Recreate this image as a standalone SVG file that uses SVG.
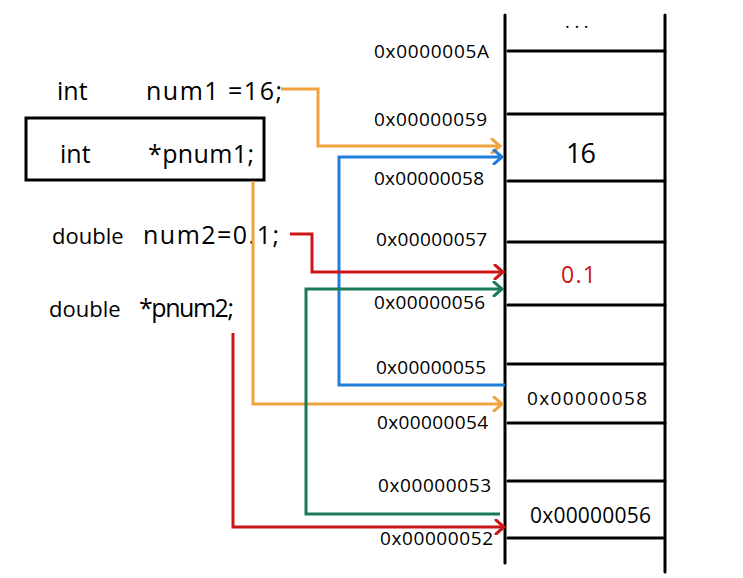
<svg xmlns="http://www.w3.org/2000/svg" width="743" height="578" viewBox="0 0 743 578">
<style>
.code{font-family:"Open Sans","DejaVu Sans",sans-serif;font-size:25px;fill:#000}
.dbl{font-size:22px}
.addr{font-family:"Open Sans","DejaVu Sans",sans-serif;font-size:19px;fill:#000}
.cell{font-family:"Open Sans","DejaVu Sans",sans-serif;fill:#000}
.mem{stroke:#000;stroke-width:3;fill:none;stroke-linecap:round}
.c{fill:none;stroke-width:3;stroke-linejoin:miter}
</style>
<defs>
<marker id="ao" markerWidth="14" markerHeight="16" refX="11" refY="8" orient="auto" markerUnits="userSpaceOnUse"><polyline points="3,1 11,8 3,15" fill="none" stroke="#F0A33C" stroke-width="3" stroke-linecap="round"/></marker>
<marker id="ab" markerWidth="14" markerHeight="16" refX="11" refY="8" orient="auto" markerUnits="userSpaceOnUse"><polyline points="3,1 11,8 3,15" fill="none" stroke="#1F7FDB" stroke-width="3" stroke-linecap="round"/></marker>
<marker id="ar" markerWidth="14" markerHeight="16" refX="11" refY="8" orient="auto" markerUnits="userSpaceOnUse"><polyline points="3,1 11,8 3,15" fill="none" stroke="#CC1518" stroke-width="3" stroke-linecap="round"/></marker>
<marker id="ag" markerWidth="14" markerHeight="16" refX="11" refY="8" orient="auto" markerUnits="userSpaceOnUse"><polyline points="3,1 11,8 3,15" fill="none" stroke="#1B7A56" stroke-width="3" stroke-linecap="round"/></marker>
</defs>
<rect width="743" height="578" fill="#fff"/>

<g id="memory">
<line class="mem" x1="505" y1="15" x2="505" y2="563"/>
<line class="mem" x1="665" y1="15" x2="665" y2="572"/>
<line class="mem" x1="508" y1="51" x2="665" y2="51"/>
<line class="mem" x1="508" y1="114" x2="665" y2="114"/>
<line class="mem" x1="508" y1="181" x2="665" y2="181"/>
<line class="mem" x1="508" y1="242" x2="665" y2="242"/>
<line class="mem" x1="508" y1="305" x2="665" y2="305"/>
<line class="mem" x1="508" y1="364" x2="665" y2="364"/>
<line class="mem" x1="508" y1="423" x2="665" y2="423"/>
<line class="mem" x1="508" y1="481" x2="665" y2="481"/>
<line class="mem" x1="508" y1="538" x2="663" y2="538"/>
<text class="cell" x="565" y="28" font-size="18">. . .</text>
<text class="cell" x="566" y="163" font-size="27" textLength="30">16</text>
<text class="cell" x="561" y="283" font-size="23" style="fill:#CC1518" textLength="35">0.1</text>
<text class="cell" x="527" y="405" font-size="19" textLength="120">0x00000058</text>
<text class="cell" x="530" y="523" font-size="21" textLength="121">0x00000056</text>
</g>

<g id="addresses">
<text class="addr" x="374" y="58" textLength="115">0x0000005A</text>
<text class="addr" x="374" y="126" textLength="113">0x00000059</text>
<text class="addr" x="374" y="185" textLength="110">0x00000058</text>
<text class="addr" x="376" y="246" textLength="111">0x00000057</text>
<text class="addr" x="374" y="309" textLength="111">0x00000056</text>
<text class="addr" x="376" y="374" textLength="110">0x00000055</text>
<text class="addr" x="377" y="429" textLength="111">0x00000054</text>
<text class="addr" x="378" y="492" textLength="113">0x00000053</text>
<text class="addr" x="380" y="545" textLength="113">0x00000052</text>
</g>

<g id="num1">
<text class="code" x="57" y="100">int</text>
<text class="code" x="146" y="100" textLength="136">num1 =16;</text>
</g>
<g id="pnum1">
<rect x="26" y="118" width="238" height="62" fill="none" stroke="#000" stroke-width="3"/>
<text class="code" x="60" y="163">int</text>
<text class="code" x="148" y="163" textLength="106">*pnum1;</text>
</g>
<g id="num2">
<text class="code dbl" x="52" y="244">double</text>
<text class="code" x="143" y="244" textLength="136">num2=0.1;</text>
</g>
<g id="pnum2">
<text class="code dbl" x="49" y="317">double</text>
<text class="code" x="139" y="317" textLength="95">*pnum2;</text>
</g>

<g id="connectors">
<polyline class="c" stroke="#F0A33C" points="281,89 318,89 318,146 500,146" marker-end="url(#ao)"/>
<polyline class="c" stroke="#F0A33C" points="253,181 253,404 502,404" marker-end="url(#ao)"/>
<polyline class="c" stroke="#1F7FDB" points="505,385 339,385 339,157 502,157" marker-end="url(#ab)"/>
<polyline class="c" stroke="#CC1518" points="290,234 312,234 312,272 503,272" marker-end="url(#ar)"/>
<polyline class="c" stroke="#1B7A56" points="500,514 306,514 306,289 502,289" marker-end="url(#ag)"/>
<polyline class="c" stroke="#CC1518" points="233,333 233,527 504,527" marker-end="url(#ar)"/>
</g>
</svg>
